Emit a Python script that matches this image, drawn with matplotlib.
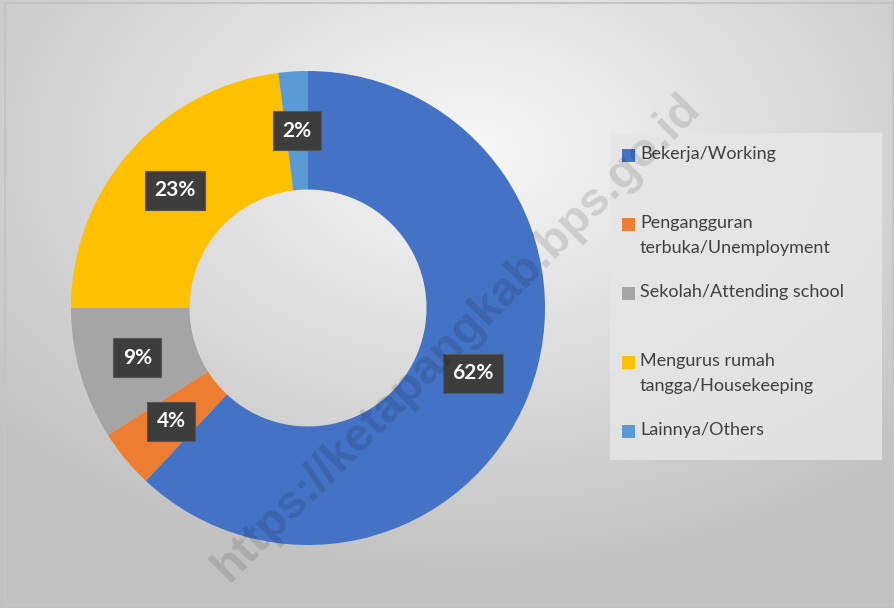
import numpy as np
import matplotlib.pyplot as plt
from matplotlib.patches import Rectangle

# data
categories = ['Bekerja/Working', 'Pengangguran\nterbuka/Unemployment',
              'Sekolah/Attending school', 'Mengurus rumah\ntangga/Housekeeping',
              'Lainnya/Others']
shares = [62, 4, 9, 23, 2]
colors = ['#4472C4', '#ED7D31', '#A5A5A5', '#FFC000', '#5B9BD5']

W, H = 895, 608
fig = plt.figure(figsize=(W / 100, H / 100), dpi=100)

# background with soft radial gradient
bg = fig.add_axes([0, 0, 1, 1])
yy, xx = np.mgrid[0:H, 0:W]
d = np.sqrt(((xx - 470) / W) ** 2 + ((yy - 150) / H) ** 2)
shade = np.clip(0.97 - 0.30 * d, 0.76, 0.97)
bg.imshow(np.dstack([shade] * 3), extent=[0, W, H, 0], aspect='auto')
bg.add_patch(Rectangle((5, 3), 888, 602, fill=False, edgecolor='#c4c4c4', lw=1.5))
bg.set_xlim(0, W)
bg.set_ylim(H, 0)
bg.axis('off')

# donut
cx, cy, r = 308, 308, 237
ax = fig.add_axes([(cx - r) / W, (H - cy - r) / H, 2 * r / W, 2 * r / H])
wedges, _ = ax.pie(shares, colors=colors, startangle=90, counterclock=False,
                   radius=1, wedgeprops=dict(width=0.5, edgecolor='none'))
ax.set_xlim(-1, 1)
ax.set_ylim(-1, 1)
ax.axis('off')

# data labels
for w, v in zip(wedges, shares):
    ang = np.deg2rad((w.theta1 + w.theta2) / 2)
    ax.text(0.75 * np.cos(ang), 0.75 * np.sin(ang), f'{v}%', ha='center', va='center',
            color='white', fontsize=15, fontweight='bold', family='Lato',
            bbox=dict(boxstyle='square,pad=0.45', facecolor='#3d3d3d', edgecolor='#555555', lw=0.8))

# legend box
bg.add_patch(Rectangle((610, 133), 272, 327, facecolor='#e6e6e6', edgecolor='none', alpha=0.85))
top = 155
slot = 69
for i, (lab, c) in enumerate(zip(categories, colors)):
    y = top + i * slot
    bg.add_patch(Rectangle((622, y - 6.5), 13, 13, facecolor=c, edgecolor='none'))
    bg.text(640, y - 9, lab, ha='left', va='top', fontsize=13, family='Lato',
            color='#404040', linespacing=1.7)

# watermark on top of everything
fig.text(457 / W, 1 - 338 / H, 'https://ketapangkab.bps.go.id', rotation=45,
         ha='center', va='center', fontsize=34, fontweight='bold',
         family='Liberation Sans', color='#000000', alpha=0.12, zorder=10)

fig.savefig('out.png', dpi=100)
